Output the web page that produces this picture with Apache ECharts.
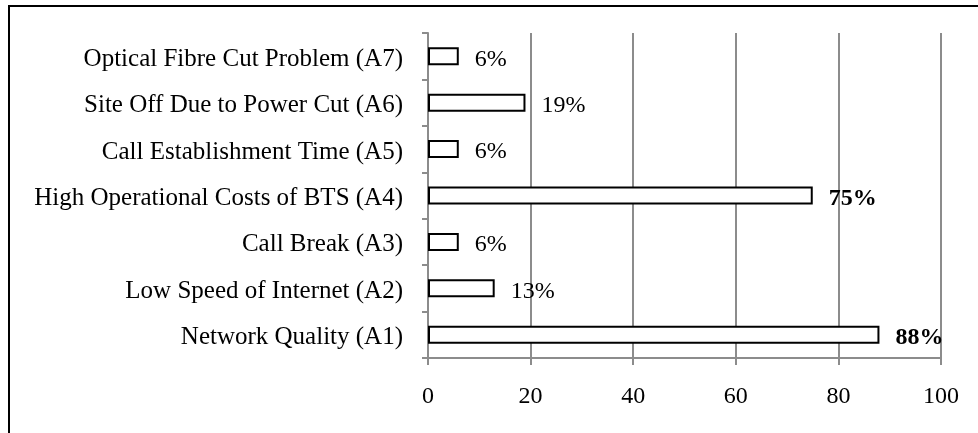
<!DOCTYPE html>
<html>
<head>
<meta charset="utf-8">
<script src="https://cdn.jsdelivr.net/npm/echarts@6/dist/echarts.min.js"></script>
<style>
  html, body { margin: 0; padding: 0; background: #fff; }
  #chart { width: 978px; height: 433px; }
</style>
</head>
<body>
<div id="chart"></div>
<script>
// Problem categories, bottom to top
const categories = [
  'Network Quality (A1)',
  'Low Speed of Internet (A2)',
  'Call Break (A3)',
  'High Operational Costs of BTS (A4)',
  'Call Establishment Time (A5)',
  'Site Off Due to Power Cut (A6)',
  'Optical Fibre Cut Problem (A7)'
];
// Share of respondents (%)
const percentages = [88, 13, 6, 75, 6, 19, 6];
// Values shown in bold
const highlighted = [88, 75];
const xTicks = [0, 20, 40, 60, 80, 100];

const FONT = '"Liberation Serif", "Times New Roman", serif';
const GREY = '#8c8c8c';

const chart = echarts.init(document.getElementById('chart'), null, { renderer: 'canvas' });

chart.setOption({
  animation: false,
  backgroundColor: '#fff',
  grid: { left: 428, right: 37, top: 33, bottom: 75, containLabel: false },
  xAxis: {
    type: 'value',
    min: xTicks[0],
    max: xTicks[xTicks.length - 1],
    interval: xTicks[1] - xTicks[0],
    axisLine: { show: true, lineStyle: { color: GREY, width: 2 } },
    axisTick: { show: true, length: 7, lineStyle: { color: GREY, width: 2 } },
    splitLine: { show: true, lineStyle: { color: GREY, width: 2 } },
    axisLabel: { color: '#000', fontFamily: FONT, fontSize: 24, margin: 27 }
  },
  yAxis: {
    type: 'category',
    data: categories,
    axisLine: { show: true, lineStyle: { color: GREY, width: 2 } },
    axisTick: { show: true, length: 6, lineStyle: { color: GREY, width: 2 } },
    splitLine: { show: false },
    axisLabel: {
      margin: 25,
      formatter: v => '{t|' + v + '}',
      rich: {
        t: { color: '#000', fontFamily: FONT, fontSize: 25, padding: [6, 0, 0, 0] }
      }
    }
  },
  series: [{
    type: 'bar',
    data: percentages.map(v => ({
      value: v,
      label: { fontWeight: highlighted.includes(v) ? 'bold' : 'normal' }
    })),
    barWidth: 18,
    itemStyle: { color: '#fff', borderColor: '#000', borderWidth: 2 },
    label: {
      show: true,
      position: 'right',
      distance: 16,
      offset: [0, 3],
      color: '#000',
      fontFamily: FONT,
      fontSize: 24,
      formatter: p => p.value + '%'
    }
  }],
  graphic: [
    { type: 'line', shape: { x1: 9, y1: 6, x2: 978, y2: 6 }, style: { stroke: '#000', lineWidth: 2 } },
    { type: 'line', shape: { x1: 9, y1: 5, x2: 9, y2: 433 }, style: { stroke: '#000', lineWidth: 2 } }
  ]
});
</script>
</body>
</html>
